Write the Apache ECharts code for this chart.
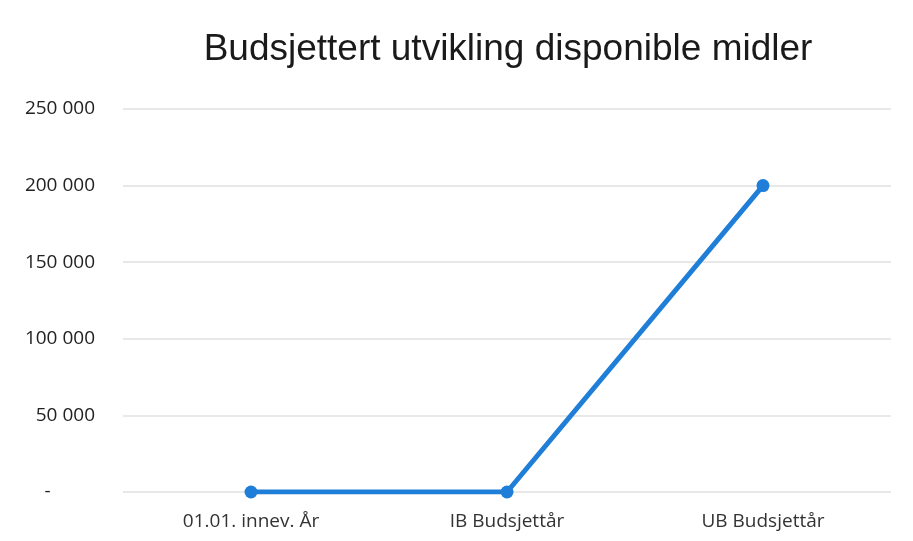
<!DOCTYPE html>
<html>
<head>
<meta charset="utf-8">
<script src="https://cdn.jsdelivr.net/npm/echarts@6/dist/echarts.min.js"></script>
<style>
  html, body { margin: 0; padding: 0; background: #fff; }
  #grf { width: 913px; height: 541px; }
</style>
</head>
<body>
<div id="grf"></div>
<script>
// Data
var kategorier = ['01.01. innev. År', 'IB Budsjettår', 'UB Budsjettår'];
var verdier = [0, 0, 200000];
var tittel = 'Budsjettert utvikling disponible midler';

var grafico = echarts.init(document.getElementById('grf'));

function formatTall(v) {
	if (v === 0) return '-         ';
	return String(v).replace(/\B(?=(\d{3})+(?!\d))/g, ' ');
}

var opcoes = {
	animation: false,
	title: {
		text: tittel,
		left: 503,
		textAlign: 'center',
		top: 26,
		textStyle: {
			fontFamily: 'Liberation Sans',
			fontWeight: 'normal',
			fontSize: 37,
			color: '#1a1a1a'
		}
	},
	grid: {
		top: 109,
		left: 123,
		right: 22,
		bottom: 49
	},
	xAxis: {
		type: 'category',
		data: kategorier,
		axisLine: { show: false },
		axisTick: { show: false },
		axisLabel: {
			margin: 20,
			fontFamily: 'Open Sans',
			fontSize: 19,
			color: '#333'
		}
	},
	yAxis: {
		type: 'value',
		min: 0,
		max: 250000,
		interval: 50000,
		axisLine: { show: false },
		axisTick: { show: false },
		axisLabel: {
			margin: 28,
			fontFamily: 'Open Sans',
			fontSize: 19,
			color: '#222',
			formatter: formatTall
		},
		splitLine: { lineStyle: { color: '#e0e0e0', width: 1.5 } }
	},
	series: [{
		type: 'line',
		data: verdier,
		symbol: 'circle',
		symbolSize: 13,
		lineStyle: { color: '#1f7ed8', width: 5 },
		itemStyle: { color: '#1f7ed8' }
	}]
};

grafico.setOption(opcoes);
</script>
</body>
</html>
